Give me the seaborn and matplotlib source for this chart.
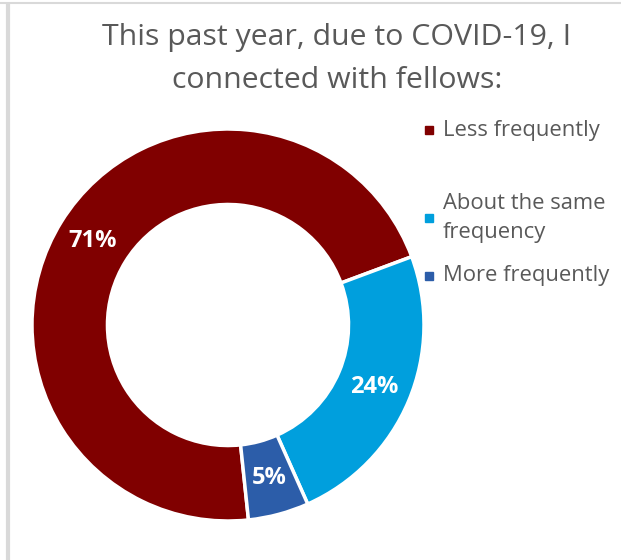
import matplotlib
matplotlib.use("Agg")
import matplotlib.pyplot as plt
from matplotlib.patches import Rectangle
import seaborn as sns

# data
categories = ["Less frequently", "About the same\nfrequency", "More frequently"]
shares = [71, 24, 5]
colors = ["#800000", "#009FDD", "#2C5DA9"]
title = "This past year, due to COVID-19, I\nconnected with fellows:"

sns.set_theme(style="white")
plt.rcParams["font.family"] = ["Open Sans", "DejaVu Sans"]
pal = sns.color_palette(colors)

fig = plt.figure(figsize=(6.21, 5.6), dpi=100)
W, H = 621, 560

# donut: center (228, 325) px, radius 196 px
cx, cy, R = 228, 325, 196
ax = fig.add_axes([(cx - R) / W, (H - cy - R) / H, 2 * R / W, 2 * R / H])
wedges, texts, autotexts = ax.pie(
    shares, colors=pal, startangle=-84, counterclock=False,
    radius=1, autopct="%d%%", pctdistance=0.81,
    wedgeprops=dict(width=0.385, edgecolor="white", linewidth=2.5),
    textprops=dict(color="white", fontsize=17, fontweight="bold"))
ax.set_xlim(-1, 1)
ax.set_ylim(-1, 1)
ax.axis("off")

fig.text(337 / W, 1 - 59 / H, title, ha="center", va="center",
         fontsize=21.8, color="#595959", linespacing=1.62)

# legend placed by hand (Excel-like uneven spacing)
leg_y = [130, 218, 276]
for lab, col, y in zip(categories, colors, leg_y):
    fig.patches.append(Rectangle((425 / W, 1 - (y + 4) / H), 8 / W, 8 / H,
                                 transform=fig.transFigure, color=col))
    fig.text(443 / W, 1 - y / H, lab, ha="left", va="center",
             fontsize=15.8, color="#595959", linespacing=1.45)

# frame lines of the screenshot
fig.add_artist(plt.Line2D([8 / W, 8 / W], [0, 1 - 4 / H], transform=fig.transFigure,
                          color="#D9D9D9", lw=3))
fig.add_artist(plt.Line2D([0, 1], [1 - 3 / H, 1 - 3 / H], transform=fig.transFigure,
                          color="#D9D9D9", lw=1.5))

fig.savefig("out.png", dpi=100)
